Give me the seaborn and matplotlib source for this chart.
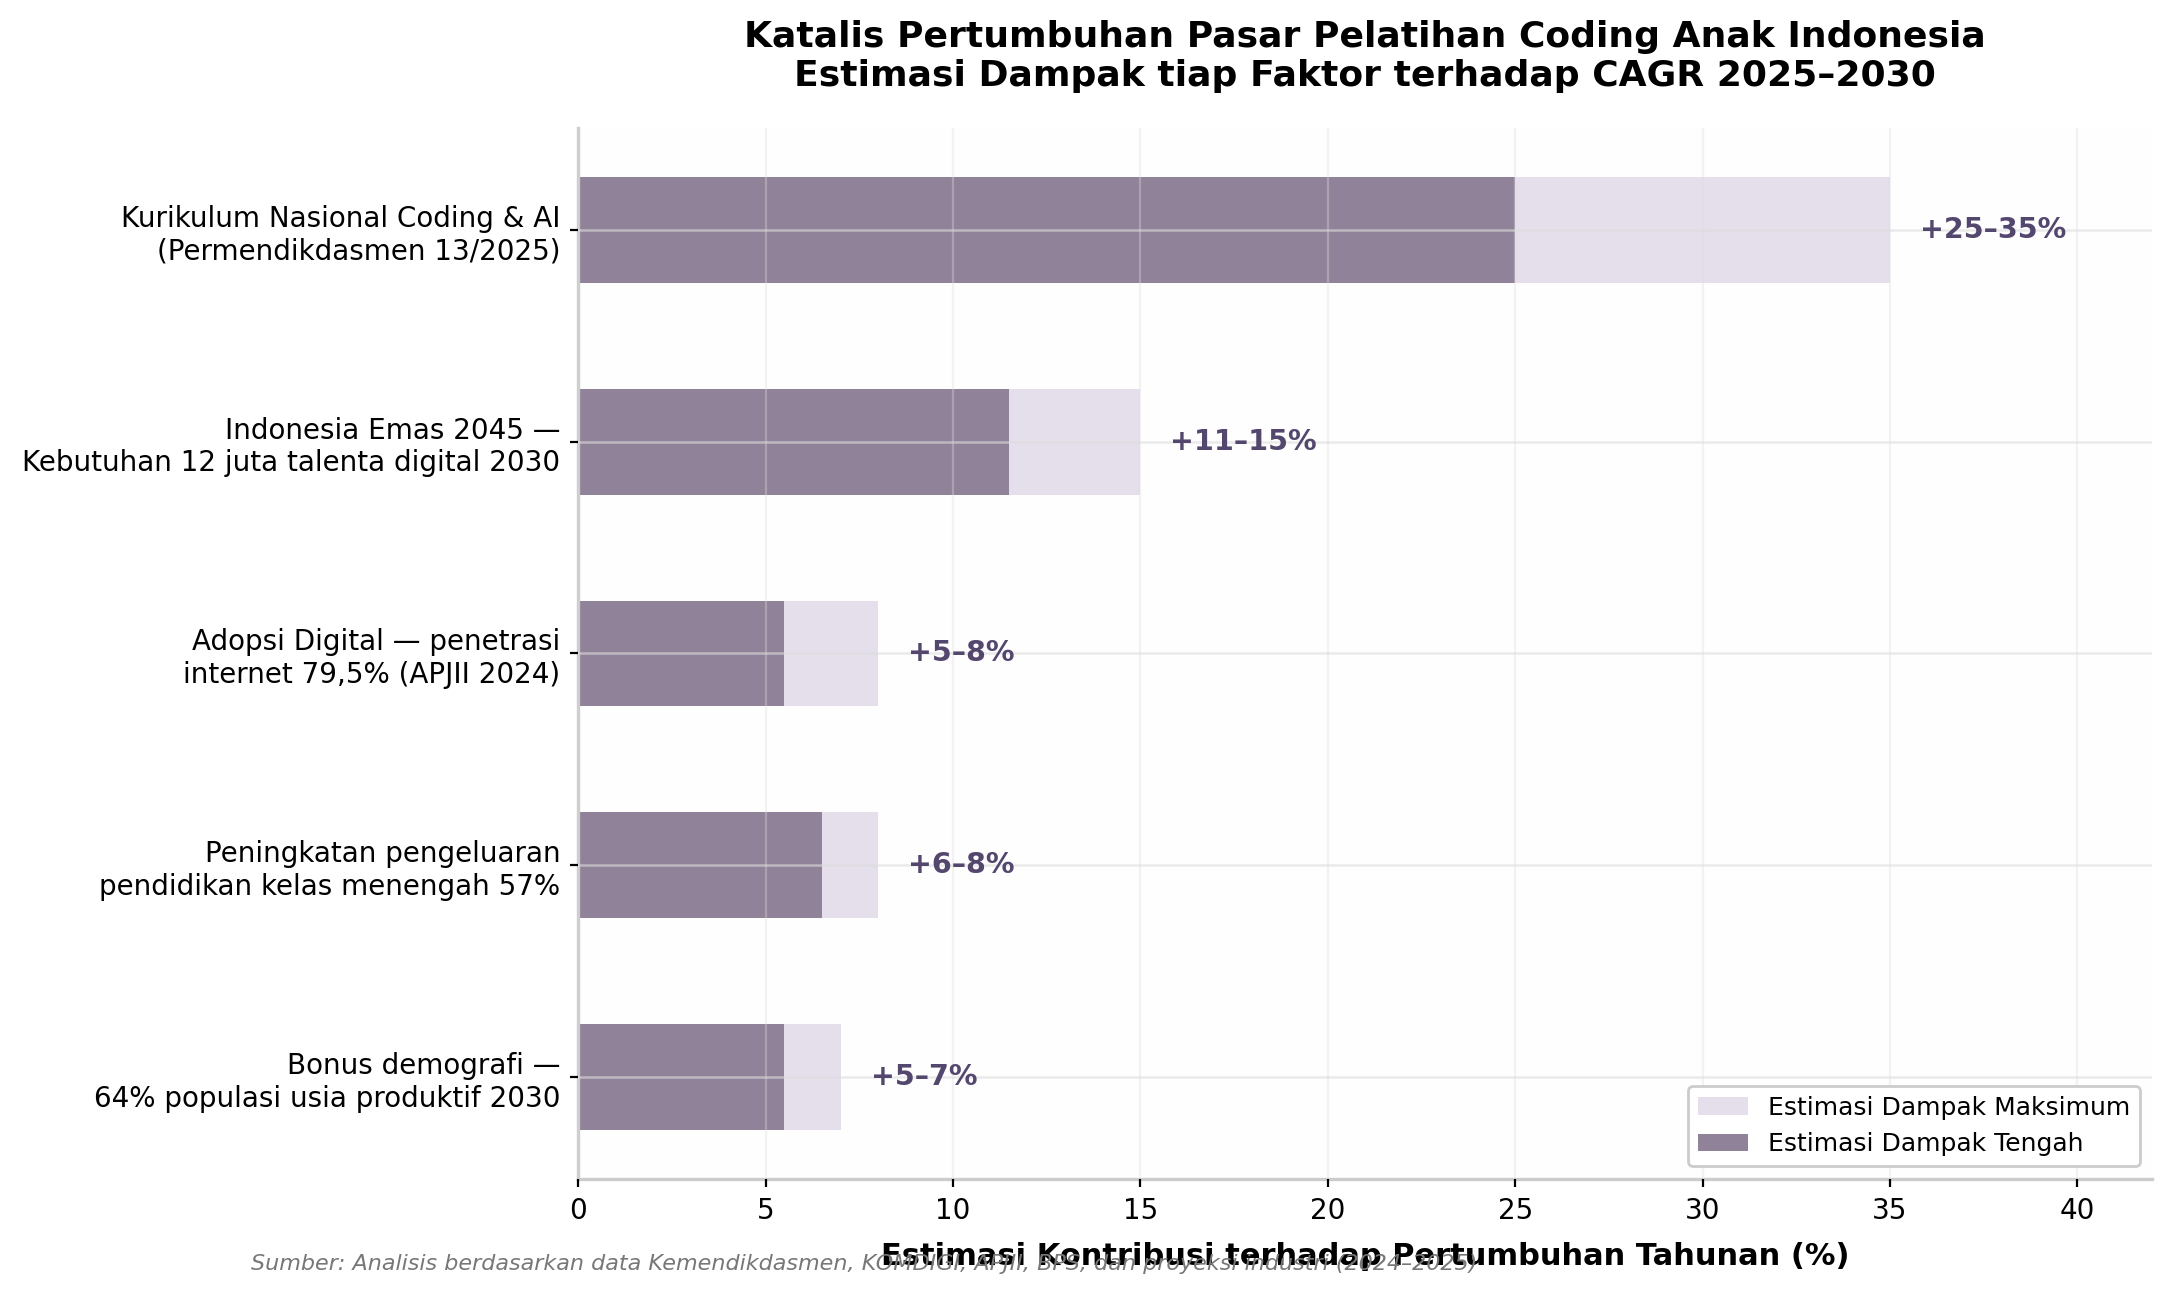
#!/usr/bin/env python3
# Katalis pertumbuhan pasar pelatihan coding anak - horizontal bar chart

import pandas as pd
import matplotlib.pyplot as plt
import seaborn as sns

# Data
faktor = [
    'Kurikulum Nasional Coding & AI\n(Permendikdasmen 13/2025)',
    'Indonesia Emas 2045 —\nKebutuhan 12 juta talenta digital 2030',
    'Adopsi Digital — penetrasi\ninternet 79,5% (APJII 2024)',
    'Peningkatan pengeluaran\npendidikan kelas menengah 57%',
    'Bonus demografi —\n64% populasi usia produktif 2030',
]
dampak_tengah = [25, 11.5, 5.5, 6.5, 5.5]
dampak_maks = [35, 15, 8, 8, 7]
label_rentang = ['+25–35%', '+11–15%', '+5–8%', '+6–8%', '+5–7%']

df = pd.DataFrame({'faktor': faktor, 'tengah': dampak_tengah, 'maks': dampak_maks})

sns.set_theme(style='whitegrid')
plt.rcParams['font.family'] = ['DejaVu Sans']
plt.rcParams['text.color'] = 'black'
plt.rcParams['axes.labelcolor'] = 'black'
plt.rcParams['xtick.color'] = 'black'
plt.rcParams['ytick.color'] = 'black'
plt.rcParams['axes.facecolor'] = 'white'

fig, ax = plt.subplots(figsize=(2174 / 200, 1294 / 200), dpi=200)
fig.subplots_adjust(left=0.266, right=0.990, top=0.901, bottom=0.089)

sns.barplot(data=df, y='faktor', x='maks', color='#e4dfeb', width=0.5,
            saturation=1, linewidth=0, ax=ax, label='Estimasi Dampak Maksimum', orient='h')
sns.barplot(data=df, y='faktor', x='tengah', color='#908399', width=0.5,
            saturation=1, linewidth=0, ax=ax, label='Estimasi Dampak Tengah', orient='h')
ax.set_facecolor('#fefefe')

# range labels to the right of each bar
for i, (m, txt) in enumerate(zip(dampak_maks, label_rentang)):
    ax.text(m + 0.8, i, txt, va='center', ha='left', fontsize=10.3,
            fontweight='bold', color='#54476e')

ax.set_xlim(0, 42)
ax.set_ylim(4.48, -0.48)

# grid above bars
ax.set_axisbelow(False)
ax.xaxis.grid(True, color='#dddddd', alpha=0.35, linewidth=0.8)
ax.yaxis.grid(True, color='#dddddd', alpha=0.6, linewidth=0.9)

for s in ['top', 'right']:
    ax.spines[s].set_visible(False)
for s in ['left', 'bottom']:
    ax.spines[s].set_color('#cccccc')
    ax.spines[s].set_linewidth(1.2)

ax.tick_params(axis='both', which='major', length=3, width=0.8, color='black',
               labelsize=10, left=True, bottom=True)
ax.set_ylabel('')
ax.set_xlabel('Estimasi Kontribusi terhadap Pertumbuhan Tahunan (%)',
              fontsize=11, fontweight='bold', labelpad=6)
ax.set_title('Katalis Pertumbuhan Pasar Pelatihan Coding Anak Indonesia\n'
             'Estimasi Dampak tiap Faktor terhadap CAGR 2025–2030',
             fontsize=13, fontweight='bold', pad=15)

leg = ax.legend(loc='lower right', fontsize=9, frameon=True, facecolor='white',
                edgecolor='#cccccc', framealpha=1)

fig.text(0.1155, 0.023, 'Sumber: Analisis berdasarkan data Kemendikdasmen, KOMDIGI, APJII, BPS, dan proyeksi industri (2024–2025)',
         fontsize=8, style='italic', color='#777777', ha='left', va='center')

plt.savefig('out.png', dpi=200, facecolor='white')
